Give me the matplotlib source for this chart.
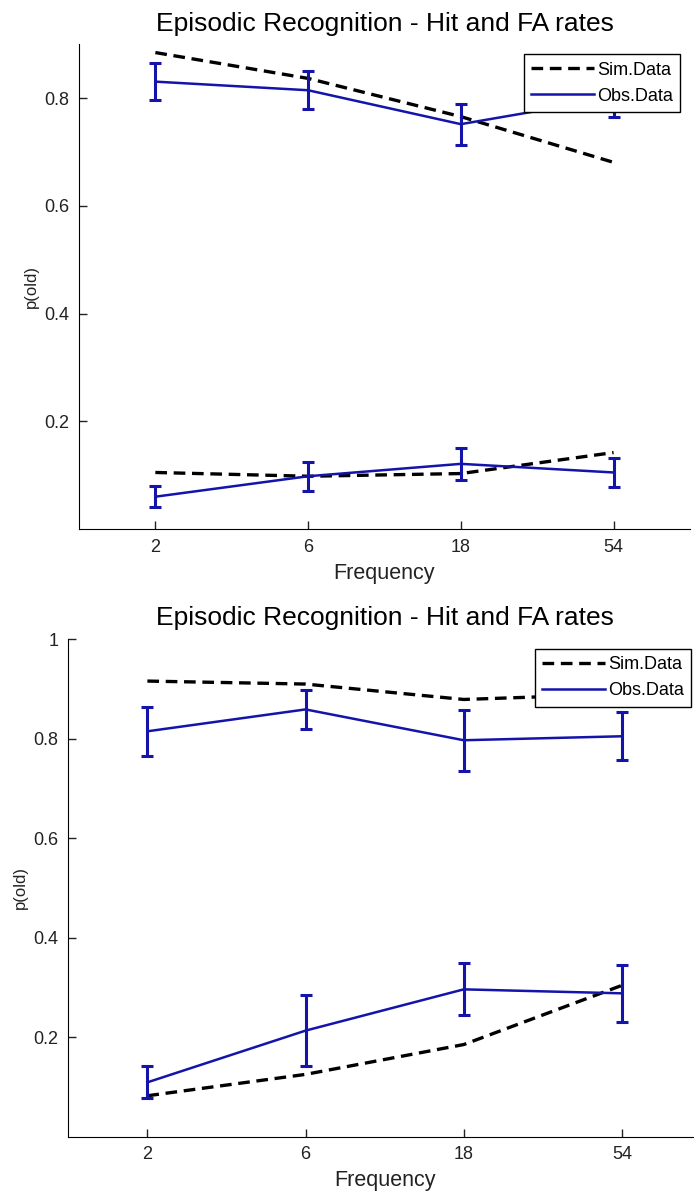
import matplotlib
matplotlib.use("Agg")
import matplotlib.pyplot as plt

# Данные
freq_labels = ["2", "6", "18", "54"]
xpos = [1, 2, 3, 4]

# верхний график
sim_hit_1 = [0.885, 0.837, 0.766, 0.681]
sim_fa_1 = [0.105, 0.098, 0.103, 0.142]
obs_hit_1 = [0.831, 0.815, 0.752, 0.801]
obs_hit_err_1 = [0.034, 0.035, 0.038, 0.036]
obs_fa_1 = [0.060, 0.098, 0.121, 0.105]
obs_fa_err_1 = [0.020, 0.027, 0.030, 0.027]

# нижний график
sim_hit_2 = [0.916, 0.910, 0.879, 0.890]
sim_fa_2 = [0.082, 0.125, 0.185, 0.304]
obs_hit_2 = [0.815, 0.859, 0.797, 0.805]
obs_hit_err_2 = [0.049, 0.040, 0.061, 0.048]
obs_fa_2 = [0.109, 0.213, 0.296, 0.288]
obs_fa_err_2 = [0.032, 0.071, 0.052, 0.057]

BLUE = "#1414aa"
TXT = "#222222"
plt.rcParams["font.family"] = ["Liberation Sans", "DejaVu Sans"]

fig = plt.figure(figsize=(6.94, 11.99), dpi=100)
ax1 = fig.add_axes([0.1138, 0.5588, 0.8804, 0.4041])
ax2 = fig.add_axes([0.0984, 0.0521, 0.9117, 0.4147])


def draw(ax, sim_hit, sim_fa, obs_hit, hit_err, obs_fa, fa_err, ylim, yticks, ylabpad):
    sim_line, = ax.plot(xpos, sim_hit, color="black", ls=(0, (3.5, 2)), lw=2.4, label="Sim.Data")
    ax.plot(xpos, sim_fa, color="black", ls=(0, (3.5, 2)), lw=2.4)
    obs_line, = ax.plot(xpos, obs_hit, color=BLUE, lw=1.8, label="Obs.Data")
    ax.plot(xpos, obs_fa, color=BLUE, lw=1.8)
    for vals, err in [(obs_hit, hit_err), (obs_fa, fa_err)]:
        ax.errorbar(xpos, vals, yerr=err, fmt="none", ecolor=BLUE,
                    elinewidth=2.2, capsize=4, capthick=2.2)
    ax.set_xlim(0.5, 4.5)
    ax.set_ylim(*ylim)
    ax.set_xticks(xpos)
    ax.set_xticklabels(freq_labels)
    ax.set_yticks(yticks)
    ax.set_yticklabels([("%g" % t) for t in yticks])
    ax.tick_params(direction="in", length=6, width=1, colors=TXT, pad=7, labelsize=13)
    ax.spines["top"].set_visible(False)
    ax.spines["right"].set_visible(False)
    ax.set_xlabel("Frequency", fontsize=15.5, labelpad=5, color=TXT)
    ax.set_ylabel("p(old)", fontsize=12, labelpad=ylabpad, color=TXT)
    ax.set_title("Episodic Recognition - Hit and FA rates", fontsize=19, pad=10)
    leg = ax.legend(handles=[sim_line, obs_line], loc="upper right",
                    fontsize=13, handlelength=3.5, handletextpad=0.15,
                    fancybox=False, framealpha=1, borderaxespad=0.55,
                    borderpad=0.4, labelspacing=0.5)
    leg.get_frame().set_edgecolor("black")
    leg.get_frame().set_linewidth(1.0)


draw(ax1, sim_hit_1, sim_fa_1, obs_hit_1, obs_hit_err_1, obs_fa_1, obs_fa_err_1,
     (0.0, 0.9), [0.2, 0.4, 0.6, 0.8], 4)
draw(ax2, sim_hit_2, sim_fa_2, obs_hit_2, obs_hit_err_2, obs_fa_2, obs_fa_err_2,
     (0.0, 1.0), [0.2, 0.4, 0.6, 0.8, 1.0], 4)

fig.savefig("out.png", dpi=100)
